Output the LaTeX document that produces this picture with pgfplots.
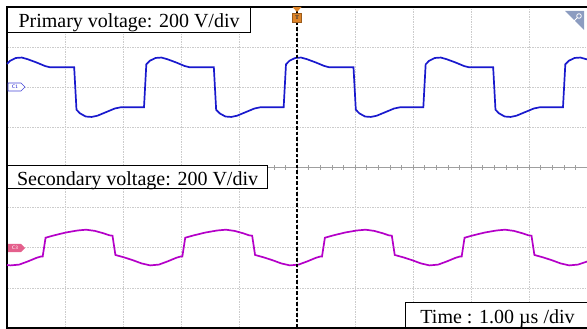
\documentclass[border=0pt]{standalone}
\usepackage{pgfplots}
\pgfplotsset{compat=1.18}
\usepackage{fontspec}
\setmainfont{Liberation Serif}
\definecolor{prim}{RGB}{25,25,205}
\definecolor{sec}{RGB}{180,0,200}
\definecolor{trig}{RGB}{222,132,40}
\definecolor{ctag}{RGB}{228,96,140}
\definecolor{icon}{RGB}{140,156,192}
\begin{document}
\begin{tikzpicture}
\begin{axis}[
  scale only axis, width=582pt, height=321pt,
  xmin=-5, xmax=5.0345, ymin=-4, ymax=4,
  enlargelimits=false, clip=false,
  xtick={-4,...,4}, ytick={-3,...,3},
  xticklabels={}, yticklabels={},
  major tick length=0pt,
  grid=major,
  major grid style={gray!40, line width=0.5pt, dash pattern=on 1.5pt off 1pt},
  axis line style={black, line width=1.6pt},
]
% centre line with small ticks
\draw[gray!75, line width=0.7pt] (axis cs:-5,0) -- (axis cs:5.0345,0);
\pgfplotsinvokeforeach{-4.8,-4.6,...,4.9}{\draw[gray!75, line width=0.5pt] (axis cs:#1,-0.06) -- (axis cs:#1,0.06);}

% primary voltage
\addplot[prim, line width=1.7pt] coordinates {
(-5.000,2.58) (-4.946,2.66) (-4.846,2.73) (-4.746,2.74) (-4.646,2.70) (-4.496,2.62) (-4.346,2.53) (-4.266,2.50) (-3.842,2.50)
(-3.802,1.44) (-3.742,1.35) (-3.642,1.27) (-3.542,1.26) (-3.442,1.29) (-3.292,1.38) (-3.142,1.47) (-3.042,1.50) (-2.638,1.50)
(-2.598,2.57) (-2.538,2.66) (-2.438,2.73) (-2.338,2.74) (-2.238,2.70) (-2.088,2.62) (-1.938,2.53) (-1.858,2.50) (-1.434,2.50)
(-1.394,1.44) (-1.334,1.35) (-1.234,1.27) (-1.134,1.26) (-1.034,1.29) (-0.884,1.38) (-0.734,1.47) (-0.634,1.50) (-0.230,1.50)
(-0.190,2.57) (-0.130,2.66) (-0.030,2.73) (0.070,2.74) (0.170,2.70) (0.320,2.62) (0.470,2.53) (0.550,2.50) (0.974,2.50)
(1.014,1.44) (1.074,1.35) (1.174,1.27) (1.274,1.26) (1.374,1.29) (1.524,1.38) (1.674,1.47) (1.774,1.50) (2.178,1.50)
(2.218,2.57) (2.278,2.66) (2.378,2.73) (2.478,2.74) (2.578,2.70) (2.728,2.62) (2.878,2.53) (2.958,2.50) (3.382,2.50)
(3.422,1.44) (3.482,1.35) (3.582,1.27) (3.682,1.26) (3.782,1.29) (3.932,1.38) (4.082,1.47) (4.182,1.50) (4.586,1.50)
(4.626,2.57) (4.686,2.66) (4.786,2.73) (4.886,2.74) (4.986,2.70) (5.030,2.69)
};

% secondary voltage
\addplot[sec, line width=1.7pt] coordinates {
(-5.000,-2.43) (-4.939,-2.44) (-4.789,-2.42) (-4.639,-2.34) (-4.489,-2.25) (-4.419,-2.22) (-4.385,-2.22)
(-4.335,-1.75) (-4.185,-1.69) (-3.985,-1.62) (-3.785,-1.57) (-3.635,-1.55) (-3.485,-1.58) (-3.335,-1.64) (-3.235,-1.69) (-3.181,-1.70)
(-3.131,-2.18) (-2.981,-2.24) (-2.831,-2.31) (-2.681,-2.39) (-2.531,-2.44) (-2.381,-2.42) (-2.231,-2.34) (-2.081,-2.25) (-2.011,-2.22) (-1.977,-2.22)
(-1.927,-1.75) (-1.777,-1.69) (-1.577,-1.62) (-1.377,-1.57) (-1.227,-1.55) (-1.077,-1.58) (-0.927,-1.64) (-0.827,-1.69) (-0.773,-1.70)
(-0.723,-2.18) (-0.573,-2.24) (-0.423,-2.31) (-0.273,-2.39) (-0.123,-2.44) (0.027,-2.42) (0.177,-2.34) (0.327,-2.25) (0.397,-2.22) (0.431,-2.22)
(0.481,-1.75) (0.631,-1.69) (0.831,-1.62) (1.031,-1.57) (1.181,-1.55) (1.331,-1.58) (1.481,-1.64) (1.581,-1.69) (1.635,-1.70)
(1.685,-2.18) (1.835,-2.24) (1.985,-2.31) (2.135,-2.39) (2.285,-2.44) (2.435,-2.42) (2.585,-2.34) (2.735,-2.25) (2.805,-2.22) (2.839,-2.22)
(2.889,-1.75) (3.039,-1.69) (3.239,-1.62) (3.439,-1.57) (3.589,-1.55) (3.739,-1.58) (3.889,-1.64) (3.989,-1.69) (4.043,-1.70)
(4.093,-2.18) (4.243,-2.24) (4.393,-2.31) (4.543,-2.39) (4.693,-2.44) (4.843,-2.42) (5.030,-2.33)
};

% trigger line and marker
\draw[black, line width=1.3pt, dash pattern=on 3.5pt off 2pt] (axis cs:0,-4) -- (axis cs:0,4);
\fill[trig] ([shift={(-4.5pt,0pt)}]axis cs:0,4) -- ([shift={(4.5pt,0pt)}]axis cs:0,4) -- ([shift={(0pt,-5pt)}]axis cs:0,4) -- cycle;
\filldraw[fill=trig, draw=trig!70!black, line width=0.6pt] ([shift={(-4.5pt,-6pt)}]axis cs:0,4) rectangle ([shift={(4.5pt,-15pt)}]axis cs:0,4);
\node[font=\fontsize{6}{6}\selectfont\bfseries, text=black!80, inner sep=0pt] at ([shift={(0pt,-10.5pt)}]axis cs:0,4) {T};

% channel tags
\filldraw[fill=white, draw=prim!80, line width=0.6pt] ([shift={(1pt,-76pt)}]rel axis cs:0,1) -- ([shift={(14pt,-76pt)}]rel axis cs:0,1) -- ([shift={(18pt,-80pt)}]rel axis cs:0,1) -- ([shift={(14pt,-84pt)}]rel axis cs:0,1) -- ([shift={(1pt,-84pt)}]rel axis cs:0,1) -- cycle;
\node[font=\sffamily\fontsize{5}{5}\selectfont, text=prim, inner sep=0pt] at ([shift={(8pt,-80pt)}]rel axis cs:0,1) {C1};
\fill[ctag] ([shift={(1pt,-237pt)}]rel axis cs:0,1) -- ([shift={(14pt,-237pt)}]rel axis cs:0,1) -- ([shift={(18pt,-241pt)}]rel axis cs:0,1) -- ([shift={(14pt,-245pt)}]rel axis cs:0,1) -- ([shift={(1pt,-245pt)}]rel axis cs:0,1) -- cycle;
\node[font=\sffamily\fontsize{5}{5}\selectfont, text=white, inner sep=0pt] at ([shift={(8pt,-241pt)}]rel axis cs:0,1) {C3};

% zoom icon
\fill[icon] ([shift={(-24pt,-4pt)}]rel axis cs:1,1) -- ([shift={(-5pt,-4pt)}]rel axis cs:1,1) -- ([shift={(-5pt,-23pt)}]rel axis cs:1,1) -- cycle;
\draw[white, line width=0.8pt] ([shift={(-10pt,-9pt)}]rel axis cs:1,1) circle (2.3pt);
\draw[white, line width=0.9pt] ([shift={(-11.6pt,-10.6pt)}]rel axis cs:1,1) -- ([shift={(-15pt,-14pt)}]rel axis cs:1,1);

% label boxes
\node[draw=black, line width=1.1pt, fill=white, anchor=north west, inner sep=0pt, minimum width=243pt, text height=20pt, text depth=5pt, align=center, font=\fontsize{20}{24}\selectfont] at (rel axis cs:0,1) {Primary voltage: 200 V/div};
\node[draw=black, line width=1.1pt, fill=white, anchor=north west, inner sep=0pt, minimum width=260pt, text height=20pt, text depth=3pt, align=center, font=\fontsize{20}{24}\selectfont] at ([shift={(0pt,2.5pt)}]axis cs:-5,0) {Secondary voltage: 200 V/div};
\node[draw=black, line width=1.1pt, fill=white, anchor=south west, inner sep=0pt, minimum width=184pt, text height=21pt, text depth=4pt, align=center, font=\fontsize{20}{24}\selectfont] at ([shift={(398pt,0pt)}]rel axis cs:0,0) {Time : 1.00 µs /div};

\coordinate (SW) at (rel axis cs:0,0);
\coordinate (NE) at (rel axis cs:1,1);
\end{axis}
\pgfresetboundingbox
\path[use as bounding box] ([shift={(-7pt,-1pt)}]SW) rectangle ([shift={(-2pt,7pt)}]NE);
\end{tikzpicture}
\end{document}
